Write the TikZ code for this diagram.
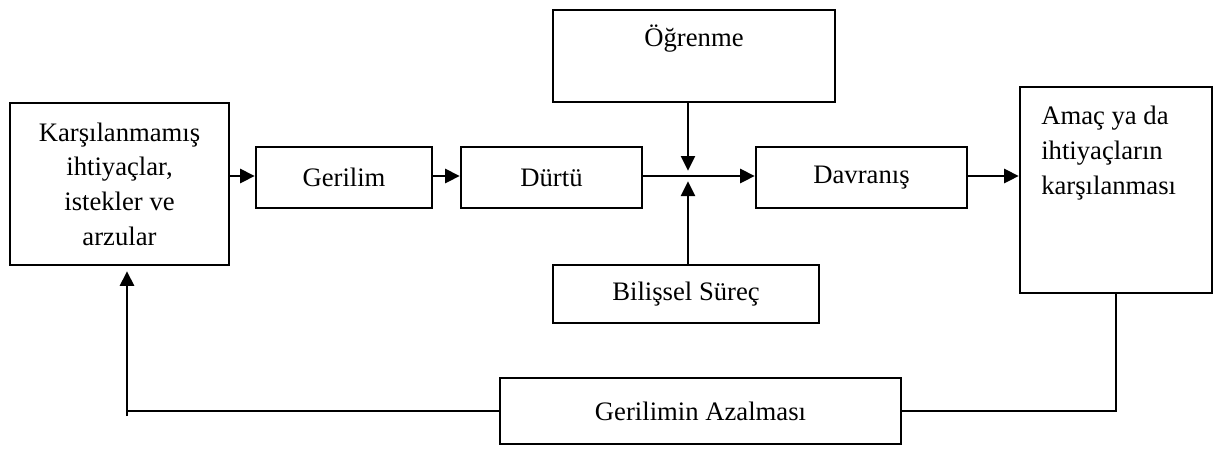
\documentclass[tikz,border=0pt]{standalone}
\usepackage{fontspec}
\setmainfont{Liberation Serif}
\usetikzlibrary{arrows.meta}
\newcommand\pxu{0.75pt}
\begin{document}
\begin{tikzpicture}[x=0.75pt,y=-0.75pt,
  font=\fontsize{20}{26}\selectfont,
  box/.style={draw, line width=1.8pt, inner sep=0pt, align=center},
  conn/.style={line width=1.8pt},
  arr/.style={conn, -{Triangle[length=11pt,width=10.5pt]}}]
\useasboundingbox (0,0) rectangle (1226,450);
% boxes
\node[box, minimum width=219*\pxu, minimum height=162*\pxu] (need) at (119.5,184)
  {Karşılanmamış\\ihtiyaçlar,\\istekler ve\\arzular};
\node[box, minimum width=176*\pxu, minimum height=61*\pxu] (geri) at (344,177.5) {Gerilim};
\node[box, minimum width=181*\pxu, minimum height=61*\pxu] (durtu) at (551.5,177.5) {Dürtü};
\node[box, minimum width=282*\pxu, minimum height=92*\pxu] (ogr) at (694,56) {};
\node[inner sep=0pt, anchor=base] (ogrtext) at (694,46) {Öğrenme};
\node[box, minimum width=211*\pxu, minimum height=61*\pxu] (davr) at (861.5,177.5) {Davranış};
\node[box, minimum width=192*\pxu, minimum height=206*\pxu] (amac) at (1116,190) {};
\node[inner sep=0pt, anchor=west, align=left] (amactext) at (1041,153)
  {Amaç ya da\\ihtiyaçların\\karşılanması};
\node[box, minimum width=266*\pxu, minimum height=58*\pxu] (bilis) at (686,294) {Bilişsel Süreç};
\node[box, minimum width=401*\pxu, minimum height=66*\pxu] (azal) at (700.5,411) {Gerilimin Azalması};
% coordinates
\coordinate (cross) at (688,176);
\coordinate (fbx) at (127,0);
% connectors
\draw[arr] (need.east |- cross) -- (geri.west |- cross);
\draw[arr] (geri.east |- cross) -- (durtu.west |- cross);
\draw[arr] (durtu.east |- cross) -- (davr.west |- cross);
\draw[arr] (ogr.south -| cross) -- ([yshift=4pt]cross);
\draw[arr] (bilis.north -| cross) -- ([yshift=-4pt]cross);
\draw[arr] (davr.east |- cross) -- (amac.west |- cross);
\draw[conn] (amac.south) |- (azal.east);
\draw[conn] (azal.west) -- (azal.west -| fbx);
\draw[arr, shorten >=3.75pt, shorten <=-3.75pt] (azal.west -| fbx) -- (need.south -| fbx);
\end{tikzpicture}
\end{document}
